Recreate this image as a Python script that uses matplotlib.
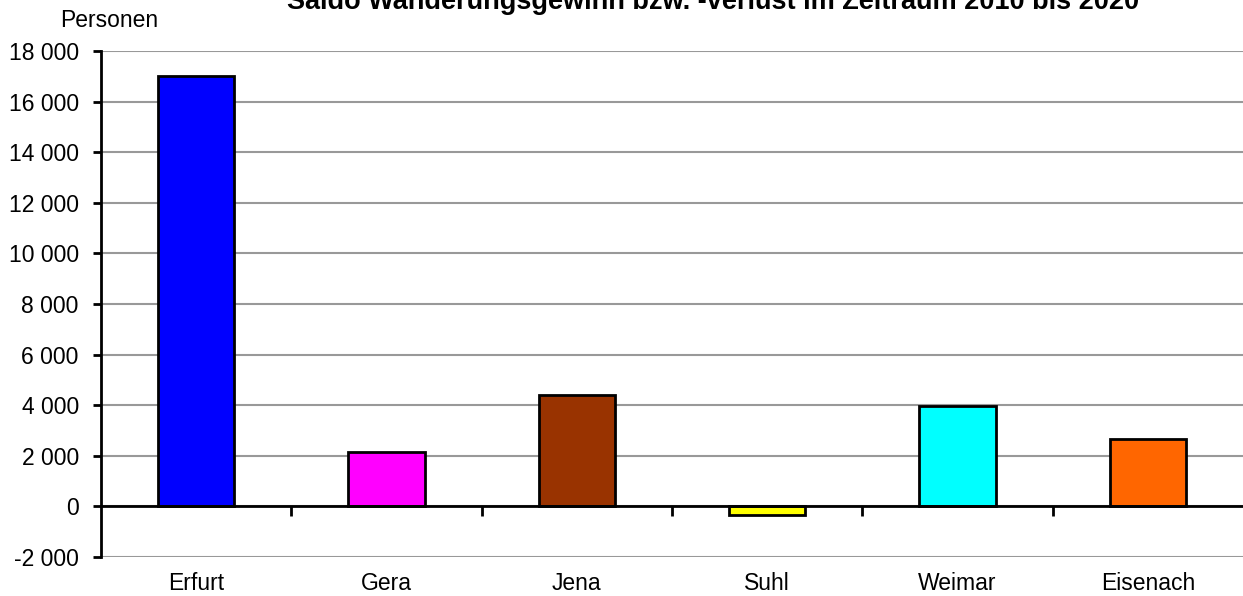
import matplotlib.pyplot as plt
from matplotlib.ticker import FuncFormatter
import matplotlib.transforms as mtransforms

# Saldo Wanderungsgewinn bzw. -verlust 2010 bis 2020
staedte = ["Erfurt", "Gera", "Jena", "Suhl", "Weimar", "Eisenach"]
saldo = [17000, 2150, 4400, -350, 3950, 2650]
farben = ["#0000FF", "#FF00FF", "#993300", "#FFFF00", "#00FFFF", "#FF6600"]
y_ticks = list(range(-2000, 18001, 2000))

plt.rcParams['font.family'] = ['Liberation Sans', 'DejaVu Sans']

fig = plt.figure(figsize=(12.43, 5.96), dpi=100)
ax = fig.add_axes([0.0813, 0.0654, 0.9187, 0.849])

x = list(range(len(staedte)))
ax.bar(x, saldo, width=0.4, color=farben, edgecolor="black", linewidth=2, zorder=3)

ax.set_xlim(-0.5, len(staedte) - 0.5)
ax.set_ylim(-2000, 18000)
ax.set_yticks(y_ticks)
ax.yaxis.set_major_formatter(FuncFormatter(lambda v, p: f"{int(v):,}".replace(",", " ")))
ax.tick_params(axis="y", direction="out", length=6, width=2, labelsize=16.5, pad=10)
ax.grid(axis="y", color="#999999", linewidth=1.5, zorder=0)

# x-Achse auf Nulllinie, Striche zwischen Kategorien
ax.spines["bottom"].set_position(("data", 0))
ax.spines["bottom"].set_linewidth(2)
ax.spines["bottom"].set_zorder(4)
ax.spines["left"].set_linewidth(2)
ax.spines["top"].set_visible(False)
ax.spines["right"].set_visible(False)
ax.set_xticks([i + 0.5 for i in x[:-1]])
ax.set_xticklabels([])
ax.tick_params(axis="x", direction="out", length=7, width=2)

trans = mtransforms.blended_transform_factory(ax.transData, ax.transAxes)
for i, name in enumerate(staedte):
    ax.text(i, -0.053, name, transform=trans, ha="center", va="center", fontsize=16.5)

fig.text(0.088, 0.965, "Personen", ha="center", va="center", fontsize=16.5)
fig.text(0.5736, 0.985, "Saldo Wanderungsgewinn bzw. -verlust im Zeitraum 2010 bis 2020",
         ha="center", va="baseline", fontsize=19.5, fontweight="bold")

fig.savefig("out.png", dpi=100)
